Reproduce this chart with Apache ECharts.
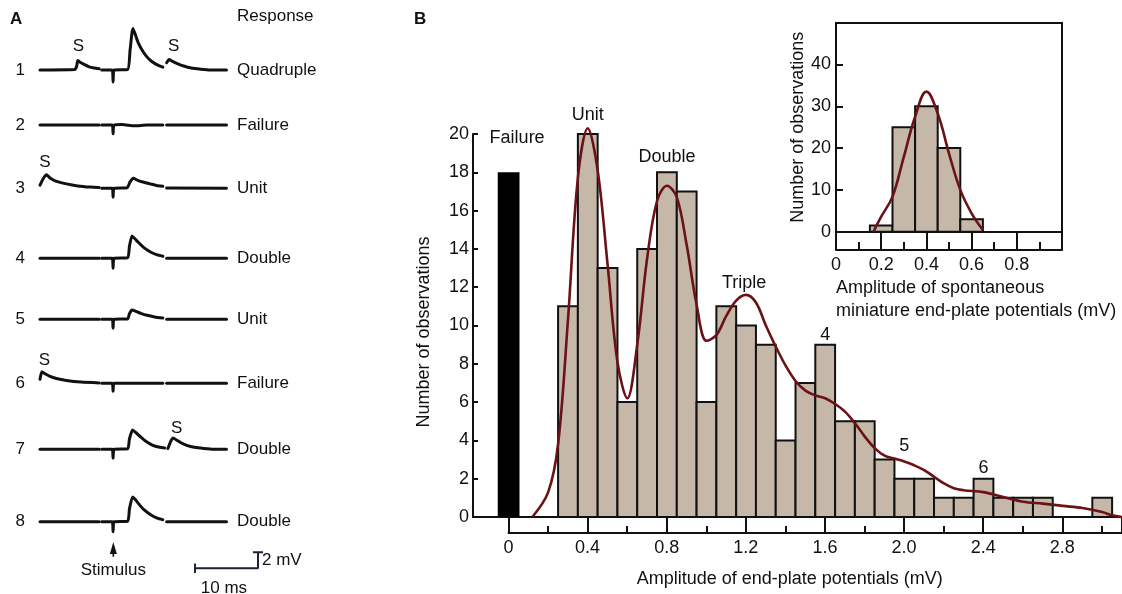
<!DOCTYPE html>
<html>
<head>
<meta charset="utf-8">
<script src="https://cdn.jsdelivr.net/npm/echarts@6/dist/echarts.min.js"></script>
<style>
html,body{margin:0;padding:0;background:#fff;}
#chart{width:1122px;height:594px;}
</style>
</head>
<body>
<div id="chart"></div>
<script>
// ---------------- DATA ----------------
// Panel B main histogram (bin width 0.1 mV)
const binWidth = 0.1;
const failureX = [0];
const failureCount = [18];
const binCenters = [0.3,0.4,0.5,0.6,0.7,0.8,0.9,1.0,1.1,1.2,1.3,1.4,1.5,1.6,1.7,1.8,1.9,2.0,2.1,2.2,2.3,2.4,2.5,2.6,2.7,2.8,2.9,3.0];
const binCounts  = [11,20,13,6,14,18,17,6,11,10,9,4,7,9,5,5,3,2,2,1,1,2,1,1,1,0,0,1];
// fitted curve
const curveX = [0.12,0.2,0.25,0.3,0.35,0.4,0.45,0.5,0.55,0.6,0.65,0.7,0.75,0.8,0.85,0.9,0.95,1.0,1.05,1.1,1.15,1.2,1.25,1.3,1.35,1.4,1.45,1.5,1.55,1.6,1.65,1.7,1.75,1.8,1.85,1.9,1.95,2.0,2.05,2.1,2.15,2.2,2.25,2.3,2.4,2.5,2.6,2.7,2.8,2.9,3.0,3.05,3.1];
const curveY = [0,1.3,3.8,10.3,17.7,20.3,18.1,13.2,8.1,6.2,9.0,13.5,16.5,17.3,16.7,14.2,11.1,9.2,9.5,10.5,11.3,11.6,11.2,10.0,8.9,7.9,7.1,6.6,6.35,6.2,5.9,5.5,4.9,4.2,3.6,3.2,3.05,2.9,2.7,2.45,2.1,1.75,1.5,1.4,1.3,1.05,0.8,0.7,0.58,0.47,0.26,0.09,0];
const peakNames = ['Failure','Unit','Double','Triple','4','5','6'];

// Inset histogram (spontaneous miniature EPPs)
const insetCenters = [0.2,0.3,0.4,0.5,0.6];
const insetCounts  = [1.5,25,30,20,3];
const insetCurveX = [0.166,0.2,0.25,0.3,0.35,0.4,0.45,0.5,0.55,0.6,0.65];
const insetCurveY = [0,3.6,8.4,17.9,27.5,33.5,28.3,18.7,10,4.4,0.4];

// Panel A traces: [time ms, mV]; null = gap in the trace
const trace1 = [[0,0],[5.5,0.05],[5.8,0.4],[6.0,1.2],[6.3,1.0],[7.0,0.7],[7.8,0.4],[8.6,0.25],[9.4,0.15],null,
  [9.8,0],[11.45,0],[11.6,-1.5],[11.75,0],[13.9,0.05],[14.3,2.5],[14.75,5.2],[15.1,4.5],[15.6,3.4],[16.2,2.5],[16.9,1.7],[17.7,1.1],[18.7,0.6],[19.5,0.35],null,
  [20.1,0.9],[20.5,1.3],[21.0,1.1],[21.8,0.8],[22.8,0.5],[24.0,0.25],[25.5,0.1],[27,0],[29.6,0]];
const trace2 = [[0,0],[9.4,0],null,[9.8,0],[11.45,0],[11.6,-1.1],[11.75,0],[13,0.05],[15,-0.1],[17,0],[19.5,0],null,[20.1,0],[29.6,0]];
const trace3 = [[0,0.4],[0.5,1.2],[1.0,1.7],[1.6,1.3],[2.5,0.9],[4.2,0.55],[6,0.3],[8,0.15],[9.4,0.1],null,
  [9.8,0],[11.45,0],[11.6,-1.1],[11.75,0],[13.8,0.05],[14.3,0.8],[14.8,1.25],[15.5,1.0],[16.5,0.75],[17.5,0.55],[18.5,0.35],[19.5,0.25],null,
  [20.1,0.05],[29.6,0]];
const trace4 = [[0,0],[9.4,0],null,[9.8,0],[11.45,0],[11.6,-1.25],[11.75,0],[13.9,0.05],[14.2,1.5],[14.6,2.8],[15.0,2.5],[15.6,2.0],[16.4,1.4],[17.4,0.85],[18.5,0.45],[19.5,0.25],null,[20.1,0],[29.6,0]];
const trace5 = [[0,0],[9.4,0],null,[9.8,0],[11.45,0],[11.6,-1.1],[11.75,0],[13.9,0.05],[14.2,0.7],[14.6,1.15],[15.2,1.0],[16,0.75],[17,0.5],[18.2,0.3],[19.5,0.15],null,[20.1,0],[29.6,0]];
const trace6 = [[0,0.5],[0.3,1.45],[0.8,1.2],[1.5,0.9],[2.6,0.6],[4.2,0.35],[6.5,0.15],[9.4,0.05],null,[9.8,0],[11.45,0],[11.6,-1.0],[11.75,0],[19.5,0],null,[20.1,0],[29.6,0]];
const trace7 = [[0,0],[9.4,0],null,[9.8,0],[11.45,0],[11.6,-1.1],[11.75,0],[13.9,0.05],[14.2,1.3],[14.7,2.4],[15.2,2.1],[15.9,1.6],[16.8,1.0],[17.9,0.5],[19.0,0.25],[19.8,0.15],null,
  [20.3,0.1],[20.7,0.9],[21.1,1.4],[21.6,1.2],[22.3,0.85],[23.3,0.5],[24.5,0.25],[26,0.1],[27.5,0],[29.6,0]];
const trace8 = [[0,0],[9.4,0],null,[9.8,0],[11.45,0],[11.6,-1.25],[11.75,0],[13.9,0.05],[14.2,1.6],[14.7,3.1],[15.1,2.8],[15.7,2.2],[16.5,1.5],[17.5,0.9],[18.6,0.45],[19.5,0.25],null,[20.1,0],[29.6,0]];
const traceNumbers = ['1','2','3','4','5','6','7','8'];
const responses = ['Quadruple','Failure','Unit','Double','Unit','Failure','Double','Double'];
// scale bar: 10 ms, 2 mV
const scaleMs = 10;
const scaleMv = 2;

// ---------------- LAYOUT / STYLE ----------------
const FONT = '"Liberation Sans", Arial, Helvetica, sans-serif';
const INK = '#111';
const BAR_FILL = '#c6b8a9';
const CURVE = '#6a1215';
const TRACE = '#111';
const traces = [trace1,trace2,trace3,trace4,trace5,trace6,trace7,trace8];
const rowBase = [70,125,188.3,258.3,319.3,383.3,449.3,521.7];
const PX_PER_MV = 8;

const grids = [
  {left:473, right:0, top:134, bottom:77},          // 0 main
  {left:508.5, right:0, top:134, bottom:77},        // 1 main tick axis
  {left:836, right:60, top:22.7, bottom:362.3}      // 2 inset
];
rowBase.forEach(b => grids.push({left:40, width:189, top:b - 7*PX_PER_MV, height:10*PX_PER_MV}));
grids.push({left:40, width:252, top:568.3 - 4*PX_PER_MV, height:7*PX_PER_MV}); // scale grid (index 11)
grids.forEach(g => { g.outerBoundsMode = 'none'; g.containLabel = false; });

const axisLineBlack = {show:true, onZero:false, lineStyle:{color:INK, width:2}};
const xAxes = [
  {gridIndex:0, type:'value', min:-0.18, max:3.1, axisLine:{show:true, onZero:false, lineStyle:{color:INK,width:2}}, axisTick:{show:false}, axisLabel:{show:false}, splitLine:{show:false}},
  {gridIndex:1, type:'value', min:0, max:3.1017, interval:0.4, offset:16, position:'bottom',
    axisLine:axisLineBlack, axisTick:{show:true, inside:true, length:16, lineStyle:{color:INK,width:2}},
    minorTick:{show:true, splitNumber:2, length:7, lineStyle:{color:INK,width:2}},
    axisLabel:{show:true, margin:6, fontSize:18, color:INK, fontFamily:FONT, showMaxLabel:false,
      formatter:v => v===0 ? '0' : v.toFixed(1)},
    splitLine:{show:false},
    name:'Amplitude of end-plate potentials (mV)', nameLocation:'middle', nameGap:37,
    nameTextStyle:{fontSize:18, color:INK, fontFamily:FONT, padding:[0,51,0,0]}},
  {gridIndex:2, type:'value', min:0, max:1, position:'bottom', axisLine:axisLineBlack, axisTick:{show:false}, axisLabel:{show:false}, splitLine:{show:false}},
  {gridIndex:2, type:'value', min:0, max:1, position:'top', axisLine:axisLineBlack, axisTick:{show:false}, axisLabel:{show:false}, splitLine:{show:false}},
  {gridIndex:2, type:'value', min:0, max:1, interval:0.2, position:'bottom', offset:18.3,
    axisLine:axisLineBlack, axisTick:{show:true, inside:true, length:18, lineStyle:{color:INK,width:2}},
    minorTick:{show:true, splitNumber:2, length:8, lineStyle:{color:INK,width:2}},
    axisLabel:{show:true, margin:6, fontSize:18, color:INK, fontFamily:FONT, showMaxLabel:false,
      formatter:v => v===0 ? '0' : v.toFixed(1)},
    splitLine:{show:false}}
];
const yAxes = [
  {gridIndex:0, type:'value', min:0, max:20, interval:2, position:'left',
    axisLine:axisLineBlack, axisTick:{show:true, inside:true, length:5, lineStyle:{color:INK,width:2}},
    axisLabel:{show:true, margin:4, fontSize:18, color:INK, fontFamily:FONT}, splitLine:{show:false},
    name:'Number of observations', nameLocation:'middle', nameGap:40,
    nameTextStyle:{fontSize:18, color:INK, fontFamily:FONT, padding:[0,13,0,0]}},
  {gridIndex:1, type:'value', min:0, max:20, show:false},
  {gridIndex:2, type:'value', min:0, max:50, interval:10, position:'left',
    axisLine:axisLineBlack, axisTick:{show:true, inside:true, length:7, lineStyle:{color:INK,width:2}},
    axisLabel:{show:true, margin:5, fontSize:18, color:INK, fontFamily:FONT, formatter:v => v===50 ? '' : String(v)},
    splitLine:{show:false},
    name:'Number of observations', nameLocation:'middle', nameGap:29,
    nameTextStyle:{fontSize:18, color:INK, fontFamily:FONT}},
  {gridIndex:2, type:'value', min:0, max:50, position:'right', axisLine:axisLineBlack, axisTick:{show:false}, axisLabel:{show:false}, splitLine:{show:false}}
];
const series = [];
const plainLabel = {show:true, position:[0,0], align:'center', verticalAlign:'middle', color:INK, opacity:1, fontFamily:FONT, textBorderWidth:0};
const hiddenPoint = {opacity:1, color:INK};

// rows
traces.forEach((tr, k) => {
  const gi = 3 + k;
  const xi = xAxes.length;
  xAxes.push({gridIndex:gi, type:'value', min:0, max:30, show:false});
  const yl = yAxes.length;
  yAxes.push({gridIndex:gi, type:'value', min:-3, max:7, interval:1, position:'left',
    axisLine:{show:false}, axisTick:{show:false}, splitLine:{show:false},
    axisLabel:{show:true, margin:15, fontSize:17, color:INK, fontFamily:FONT, formatter:v => v===0 ? traceNumbers[k] : ''}});
  yAxes.push({gridIndex:gi, type:'value', min:-3, max:7, interval:1, position:'right',
    axisLine:{show:false}, axisTick:{show:false}, splitLine:{show:false},
    axisLabel:{show:true, margin:8, fontSize:17, color:INK, fontFamily:FONT, formatter:v => v===0 ? responses[k] : ''}});
  let seg = [];
  const segs = [];
  tr.forEach(p => { if (p === null) { if (seg.length) segs.push(seg); seg = []; } else seg.push(p); });
  if (seg.length) segs.push(seg);
  segs.forEach(s => series.push({type:'line', xAxisIndex:xi, yAxisIndex:yl, data:s, symbol:'none', smooth:0.2,
    lineStyle:{color:TRACE, width:3, join:'round', cap:'round'}, clip:false, z:5}));
});

// S marks (spontaneous potentials): [row, ms, mV]
const sMarks = [[0,6.1,2.9],[0,21.2,2.9],[2,0.8,3.2],[5,0.7,2.9],[6,21.7,2.6]];
sMarks.forEach(m => {
  series.push({type:'scatter', xAxisIndex:5 + m[0], yAxisIndex:4 + 2*m[0], data:[[m[1], m[2]]], symbolSize:0, clip:false, silent:true,
    itemStyle:hiddenPoint, label:Object.assign({}, plainLabel, {formatter:'S', fontSize:17})});
});

// scale grid
const sxi = xAxes.length;
xAxes.push({gridIndex:11, type:'value', min:0, max:40, show:false});
const syi = yAxes.length;
yAxes.push({gridIndex:11, type:'value', min:-3, max:4, show:false});
const barStart = 24.6;
const scaleStyle = {color:'#1c2238', width:2};
series.push({type:'line', xAxisIndex:sxi, yAxisIndex:syi, symbol:'none', clip:false, lineStyle:scaleStyle,
  data:[[barStart,0],[barStart+scaleMs,0],[barStart+scaleMs,scaleMv]]});
series.push({type:'line', xAxisIndex:sxi, yAxisIndex:syi, symbol:'none', clip:false, lineStyle:scaleStyle,
  data:[[barStart+scaleMs-0.8,scaleMv],[barStart+scaleMs+0.8,scaleMv]]});
series.push({type:'line', xAxisIndex:sxi, yAxisIndex:syi, symbol:'none', clip:false, lineStyle:scaleStyle,
  data:[[barStart,-0.6],[barStart,0.6]]});
// stimulus arrow
series.push({type:'line', xAxisIndex:sxi, yAxisIndex:syi, clip:false, lineStyle:{color:INK, width:1.6},
  itemStyle:{color:INK, opacity:1}, data:[{value:[11.64,1.45], symbol:'none'}, {value:[11.64,2.55], symbol:'triangle', symbolSize:[7,12]}]});
series.push({type:'scatter', xAxisIndex:sxi, yAxisIndex:syi, symbolSize:0, clip:false, silent:true, itemStyle:hiddenPoint,
  data:[
    {value:[11.64,-0.25], name:'Stimulus'},
    {value:[barStart+scaleMs,0.95], name:'2 mV', label:{align:'left', position:[4,0]}},
    {value:[29.2,-2.45], name:'10 ms'}],
  label:Object.assign({}, plainLabel, {fontSize:17, formatter:p => p.name})});

// Panel B main histogram bars
function rectItem(fill){
  return function(params, api){
    const x = api.value(0), y = api.value(1);
    if (!y) return null;
    const p0 = api.coord([x - binWidth/2, y]);
    const p1 = api.coord([x + binWidth/2, 0]);
    return {type:'rect', shape:{x:p0[0], y:p0[1], width:p1[0]-p0[0], height:p1[1]-p0[1]},
      style:{fill:fill, stroke:INK, lineWidth:2}};
  };
}
series.push({type:'custom', xAxisIndex:0, yAxisIndex:0, renderItem:rectItem(BAR_FILL), clip:false,
  data:binCenters.map((c,i) => [c, binCounts[i]]), encode:{x:0, y:1}, z:2});
series.push({type:'custom', xAxisIndex:0, yAxisIndex:0, renderItem:function(params, api){
    const x = api.value(0), y = api.value(1);
    const p0 = api.coord([x - 0.055, y]);
    const p1 = api.coord([x + 0.055, 0]);
    return {type:'rect', shape:{x:p0[0], y:p0[1], width:p1[0]-p0[0], height:p1[1]-p0[1]}, style:{fill:'#000'}};
  }, data:failureX.map((c,i) => [c, failureCount[i]]), encode:{x:0, y:1}, z:2});
series.push({type:'line', xAxisIndex:0, yAxisIndex:0, data:curveX.map((x,i) => [x, curveY[i]]), symbol:'none', smooth:0.35, clip:false,
  lineStyle:{color:CURVE, width:2.6}, z:4});
// peak annotations (anchor in mV / count)
const peakAnchors = [[0.043,19.8],[0.4,21.0],[0.8,18.8],[1.19,12.2],[1.6,9.5],[2.0,3.7],[2.4,2.55]];
series.push({type:'scatter', xAxisIndex:0, yAxisIndex:0, symbolSize:0, clip:false, silent:true, z:6, itemStyle:hiddenPoint,
  data:peakAnchors.map((a,i) => ({value:a, name:peakNames[i]})),
  label:Object.assign({}, plainLabel, {formatter:p => p.name, fontSize:18})});

// Inset
series.push({type:'custom', xAxisIndex:2, yAxisIndex:2, renderItem:rectItem(BAR_FILL), clip:false,
  data:insetCenters.map((c,i) => [c, insetCounts[i]]), encode:{x:0, y:1}, z:2});
series.push({type:'line', xAxisIndex:2, yAxisIndex:2, data:insetCurveX.map((x,i) => [x, insetCurveY[i]]), symbol:'none', smooth:0.4, clip:false,
  lineStyle:{color:CURVE, width:2.6}, z:4});

const option = {
  animation:false,
  backgroundColor:'#fff',
  textStyle:{fontFamily:FONT},
  grid:grids,
  xAxis:xAxes,
  yAxis:yAxes,
  series:series,
  graphic:[
    {type:'text', left:10, top:11, style:{text:'A', font:'bold 17px ' + FONT, fill:INK}},
    {type:'text', left:414, top:11, style:{text:'B', font:'bold 17px ' + FONT, fill:INK}},
    {type:'text', left:237, top:8, style:{text:'Response', font:'17px ' + FONT, fill:INK}},
    {type:'text', left:836, top:277, style:{text:'Amplitude of spontaneous\nminiature end-plate potentials (mV)', font:'18px ' + FONT, fill:INK, lineHeight:23}}
  ]
};
const chart = echarts.init(document.getElementById('chart'), null, {renderer:'canvas'});
chart.setOption(option);
</script>
</body>
</html>
